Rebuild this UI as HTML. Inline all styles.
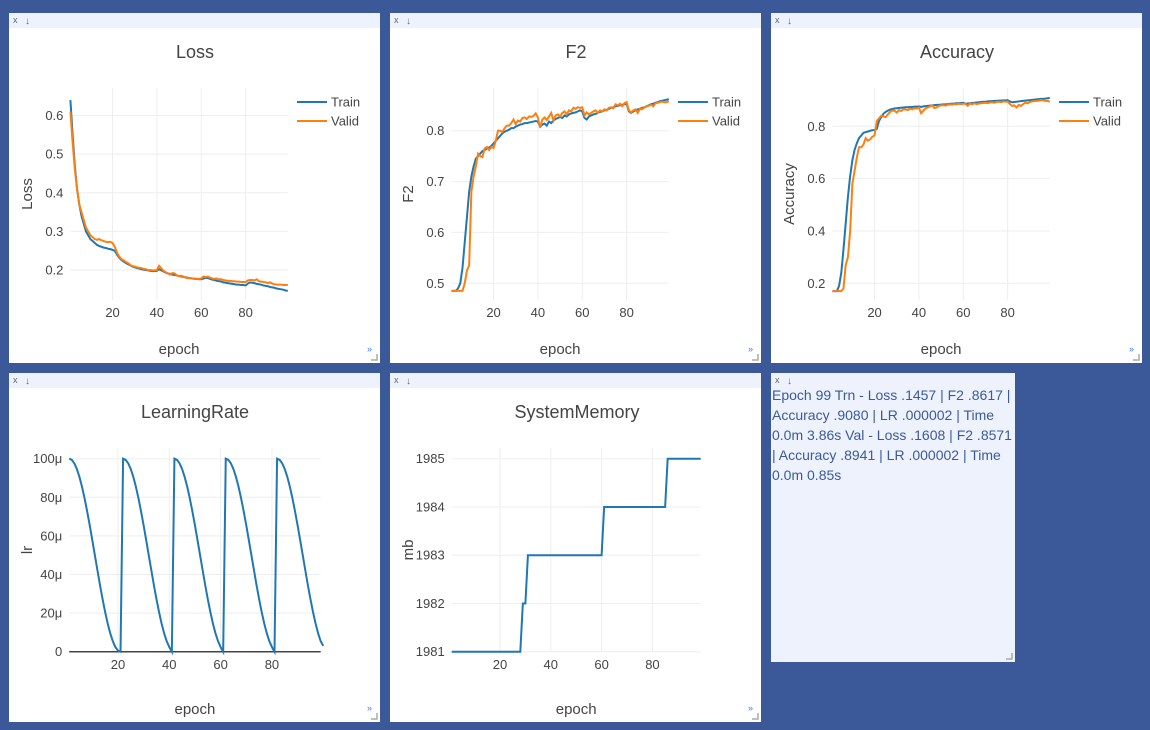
<!DOCTYPE html>
<html><head><meta charset="utf-8">
<style>
body{margin:0;background:#3b5998;width:1150px;height:730px;overflow:hidden;font-family:"Liberation Sans",sans-serif}
svg{position:absolute;left:0;top:0}
#info{position:absolute;left:772px;top:385px;width:240px;color:#3b5a9a;font-size:14px;line-height:20px;font-family:"Liberation Sans",sans-serif}
</style></head><body>
<svg id="page" width="1150" height="730"></svg>
<div id="info">Epoch 99 Trn - Loss .1457 | F2 .8617 | Accuracy .9080 | LR .000002 | Time 0.0m 3.86s Val - Loss .1608 | F2 .8571 | Accuracy .8941 | LR .000002 | Time 0.0m 0.85s</div>
<script>
const xTicks=[20,40,60,80];
const lossTrain=[.64,.55,.47,.41,.37,.34,.32,.30,.29,.28,.275,.27,.265,.262,.26,.258,.257,.255,.254,.252,.25,.24,.232,.226,.222,.218,.215,.212,.209,.207,.205,.204,.202,.201,.200,.199,.198,.197,.197,.198,.202,.199,.196,.193,.191,.190,.188,.187,.186,.184,.183,.182,.181,.180,.179,.178,.177,.177,.176,.176,.178,.180,.179,.177,.175,.174,.172,.171,.170,.168,.167,.166,.165,.164,.163,.162,.162,.161,.161,.160,.165,.168,.167,.166,.164,.163,.162,.160,.159,.158,.156,.155,.154,.152,.151,.150,.149,.147,.146];
const lossValid=[.61,.53,.46,.41,.37,.35,.33,.31,.30,.29,.285,.28,.278,.28,.277,.275,.273,.272,.273,.27,.26,.245,.235,.228,.225,.221,.218,.213,.21,.209,.207,.206,.205,.203,.202,.200,.200,.199,.199,.200,.211,.204,.198,.194,.191,.188,.192,.191,.186,.184,.185,.183,.180,.179,.179,.178,.178,.177,.177,.178,.183,.182,.183,.180,.178,.177,.178,.176,.176,.174,.173,.172,.172,.171,.171,.170,.170,.169,.169,.169,.173,.174,.174,.173,.176,.171,.170,.169,.168,.166,.168,.165,.163,.162,.162,.162,.161,.161,.161];
const f2Train=[.485,.485,.485,.49,.50,.53,.58,.63,.68,.71,.73,.745,.75,.755,.76,.762,.765,.767,.77,.775,.78,.785,.79,.795,.798,.80,.802,.805,.805,.808,.81,.812,.813,.815,.815,.816,.817,.818,.819,.818,.808,.812,.814,.81,.818,.815,.82,.823,.825,.827,.825,.83,.828,.832,.834,.835,.836,.838,.84,.838,.825,.822,.828,.83,.832,.833,.835,.837,.838,.84,.841,.843,.845,.846,.848,.849,.85,.851,.852,.853,.838,.835,.838,.84,.842,.843,.845,.846,.848,.85,.852,.853,.855,.856,.858,.859,.86,.861,.862];
const f2Valid=[.485,.485,.485,.485,.485,.485,.50,.525,.535,.68,.71,.73,.755,.75,.748,.765,.768,.762,.768,.766,.78,.80,.80,.798,.805,.81,.81,.815,.822,.813,.82,.818,.825,.826,.823,.828,.827,.829,.834,.826,.806,.822,.826,.821,.828,.835,.82,.83,.832,.828,.835,.838,.832,.84,.838,.845,.843,.846,.845,.846,.83,.836,.832,.835,.838,.84,.835,.84,.838,.842,.84,.845,.846,.844,.852,.85,.853,.848,.854,.856,.84,.836,.84,.842,.835,.843,.842,.846,.848,.849,.851,.848,.854,.855,.856,.857,.856,.856,.858];
const accTrain=[.17,.17,.17,.19,.24,.33,.43,.53,.61,.67,.71,.735,.755,.765,.775,.778,.78,.783,.785,.786,.79,.82,.835,.848,.855,.86,.864,.866,.868,.869,.87,.871,.872,.873,.873,.874,.874,.875,.875,.876,.874,.876,.877,.878,.879,.88,.881,.882,.882,.883,.884,.884,.885,.886,.886,.887,.888,.888,.889,.89,.886,.887,.888,.889,.89,.891,.892,.893,.894,.894,.895,.896,.896,.897,.897,.898,.898,.899,.899,.9,.895,.892,.893,.894,.895,.896,.897,.898,.899,.9,.901,.902,.903,.904,.905,.905,.906,.907,.908];
const accValid=[.17,.17,.17,.17,.17,.18,.27,.3,.4,.58,.63,.68,.72,.72,.73,.755,.745,.75,.76,.765,.82,.83,.84,.838,.835,.845,.855,.86,.86,.852,.862,.858,.865,.864,.862,.868,.865,.869,.868,.872,.85,.86,.868,.872,.876,.88,.87,.872,.878,.88,.881,.879,.882,.884,.883,.885,.884,.886,.885,.886,.886,.878,.887,.884,.888,.885,.887,.888,.889,.89,.888,.891,.892,.89,.893,.894,.892,.895,.894,.895,.885,.878,.88,.872,.882,.878,.885,.89,.888,.893,.895,.896,.897,.898,.9,.899,.897,.897,.894];
const lrValues=[100,99.4,97.6,94.6,90.5,85.4,79.4,72.7,65.5,57.8,50,42.2,34.5,27.3,20.6,14.6,9.5,5.4,2.4,0.6,0,
100,99.4,97.6,94.6,90.5,85.4,79.4,72.7,65.5,57.8,50,42.2,34.5,27.3,20.6,14.6,9.5,5.4,2.4,0,
100,99.4,97.6,94.6,90.5,85.4,79.4,72.7,65.5,57.8,50,42.2,34.5,27.3,20.6,14.6,9.5,5.4,2.4,0,
100,99.4,97.6,94.6,90.5,85.4,79.4,72.7,65.5,57.8,50,42.2,34.5,27.3,20.6,14.6,9.5,5.4,2.4,0,
100,99.4,97.6,94.6,90.5,85.4,79.4,72.7,65.5,57.8,50,42.2,34.5,27.3,20.6,14.6,9.5,5.4,3.0];
const memValues=[1981,1981,1981,1981,1981,1981,1981,1981,1981,1981,1981,1981,1981,1981,1981,1981,1981,1981,1981,1981,1981,1981,1981,1981,1981,1981,1981,1981,1982,1982,1983,1983,1983,1983,1983,1983,1983,1983,1983,1983,1983,1983,1983,1983,1983,1983,1983,1983,1983,1983,1983,1983,1983,1983,1983,1983,1983,1983,1983,1983,1984,1984,1984,1984,1984,1984,1984,1984,1984,1984,1984,1984,1984,1984,1984,1984,1984,1984,1984,1984,1984,1984,1984,1984,1984,1985,1985,1985,1985,1985,1985,1985,1985,1985,1985,1985,1985,1985,1985];
const lossTicks=[0.2,0.3,0.4,0.5,0.6];
const f2Ticks=[0.5,0.6,0.7,0.8];
const accTicks=[0.2,0.4,0.6,0.8];
const lrTicks=[0,20,40,60,80,100];
const memTicks=[1981,1982,1983,1984,1985];

const NS='http://www.w3.org/2000/svg';
const svg=document.getElementById('page');
function el(tag,attrs,parent,txt){const e=document.createElementNS(NS,tag);for(const k in attrs)e.setAttribute(k,attrs[k]);if(txt!==undefined)e.textContent=txt;(parent||svg).appendChild(e);return e;}

function panel(x,y,w,h,name,bg){
  const g=el('g',{});
  
  
  el('rect',{x:x,y:y,width:w,height:h,fill:bg||'#fff'},g);
  const hb=el('rect',{x:x,y:y,width:w,height:15,fill:'#eef2fd'},g);
  
  
  const cx=el('text',{x:x+4,y:y+10,'font-size':9,fill:'#666'},g,'x');
  
  
  const dn=el('text',{x:x+16,y:y+11,'font-size':10,fill:'#666'},g,'↓');
  
  
  const gr=el('path',{d:`M${x+w-9} ${y+h-3}h6v-6`,stroke:'#aaa','stroke-width':1.5,fill:'none'},g);
  
  
  return g;
}

function chart(c){
  const g=panel(c.px,c.py,c.pw,c.ph,c.name+'-panel');
  const sx=e=>c.x1+(e-1)*(c.x99-c.x1)/98;
  const sy=v=>c.p0+(v-c.v0)*(c.p1-c.p0)/(c.v1-c.v0);
  const tt=el('text',{x:c.titleX,y:c.py+45,'font-size':18,fill:'#444','text-anchor':'middle'},g,c.title);
  
  
  xTicks.forEach(t=>{
    const l=el('line',{x1:sx(t),x2:sx(t),y1:c.top,y2:c.bottom,stroke:'#eee'},g);
    
    
    const tx=el('text',{x:sx(t),y:c.bottom+17,'font-size':13,fill:'#444','text-anchor':'middle'},g,t);
    
    
  });
  c.yTicks.forEach(t=>{
    const zero=c.zero&&t===0;
    const l=el('line',{x1:sx(1),x2:sx(99),y1:sy(t),y2:sy(t),stroke:zero?'#444':'#eee','stroke-width':zero?1.5:1},g);
    
    
    const tx=el('text',{x:sx(1)-7,y:sy(t)+4.5,'font-size':13,fill:'#444','text-anchor':'end'},g,c.fmt(t));
    
    
  });
  const xt=el('text',{x:(sx(1)+sx(99))/2,y:c.py+341,'font-size':15,fill:'#444','text-anchor':'middle'},g,'epoch');
  
  
  const yx=c.px+23, yy=(c.top+c.bottom)/2;
  const yt=el('text',{x:yx,y:yy,'font-size':15,fill:'#444','text-anchor':'middle',transform:`rotate(-90 ${yx} ${yy})`},g,c.ytitle);
  
  
  c.series.forEach((s,i)=>{
    const d=s.data.map((v,k)=>(k?'L':'M')+sx(k+1).toFixed(2)+' '+sy(v).toFixed(2)).join('');
    const p=el('path',{d:d,stroke:s.color,'stroke-width':2,fill:'none'},g);
    
    
    if(c.legend){
      const ly=c.py+89+i*19;
      const ll=el('line',{x1:c.px+288,x2:c.px+318,y1:ly,y2:ly,stroke:s.color,'stroke-width':2},g);
      
      
      const lt=el('text',{x:c.px+322,y:ly+4.5,'font-size':13,fill:'#444'},g,s.label);
      
      
    }
  });
  const m=el('text',{x:c.px+c.pw-13,y:c.py+c.ph-11,'font-size':9,fill:'#3c7bf0'},g,'»');
  
  
}
const dec=t=>t.toFixed(1);
const BLUE='#1f77b4',ORANGE='#ff7f0e';
chart({name:'loss',title:'Loss',ytitle:'Loss',px:9,py:13,pw:371,ph:350,titleX:195,x1:70.4,x99:287.8,top:88,bottom:300,v0:0.6,p0:115.5,v1:0.2,p1:270,yTicks:lossTicks,fmt:dec,legend:true,series:[{label:'Train',data:lossTrain,color:BLUE},{label:'Valid',data:lossValid,color:ORANGE}]});
chart({name:'f2',title:'F2',ytitle:'F2',px:390,py:13,pw:371,ph:350,titleX:576,x1:451.4,x99:668.8,top:88,bottom:300,v0:0.8,p0:130.7,v1:0.5,p1:283.3,yTicks:f2Ticks,fmt:dec,legend:true,series:[{label:'Train',data:f2Train,color:BLUE},{label:'Valid',data:f2Valid,color:ORANGE}]});
chart({name:'accuracy',title:'Accuracy',ytitle:'Accuracy',px:771,py:13,pw:371,ph:350,titleX:957,x1:832.4,x99:1049.8,top:88,bottom:300,v0:0.8,p0:126.3,v1:0.2,p1:283.3,yTicks:accTicks,fmt:dec,legend:true,series:[{label:'Train',data:accTrain,color:BLUE},{label:'Valid',data:accValid,color:ORANGE}]});
chart({name:'learning-rate',title:'LearningRate',ytitle:'lr',px:9,py:373,pw:371,ph:349,titleX:195,x1:69.2,x99:320.7,top:448,bottom:652,v0:100,p0:458.7,v1:0,p1:651.7,yTicks:lrTicks,fmt:t=>t===0?'0':t+'μ',zero:true,legend:false,series:[{label:'LR',data:lrValues,color:BLUE}]});
chart({name:'system-memory',title:'SystemMemory',ytitle:'mb',px:390,py:373,pw:371,ph:349,titleX:577,x1:451.7,x99:700.7,top:448,bottom:652,v0:1985,p0:458.7,v1:1981,p1:651.7,yTicks:memTicks,fmt:t=>String(t),legend:false,series:[{label:'Memory',data:memValues,color:BLUE}]});
const tp=panel(771,373,244,289,'summary-panel','#eef2fd');
</script>
</body></html>
